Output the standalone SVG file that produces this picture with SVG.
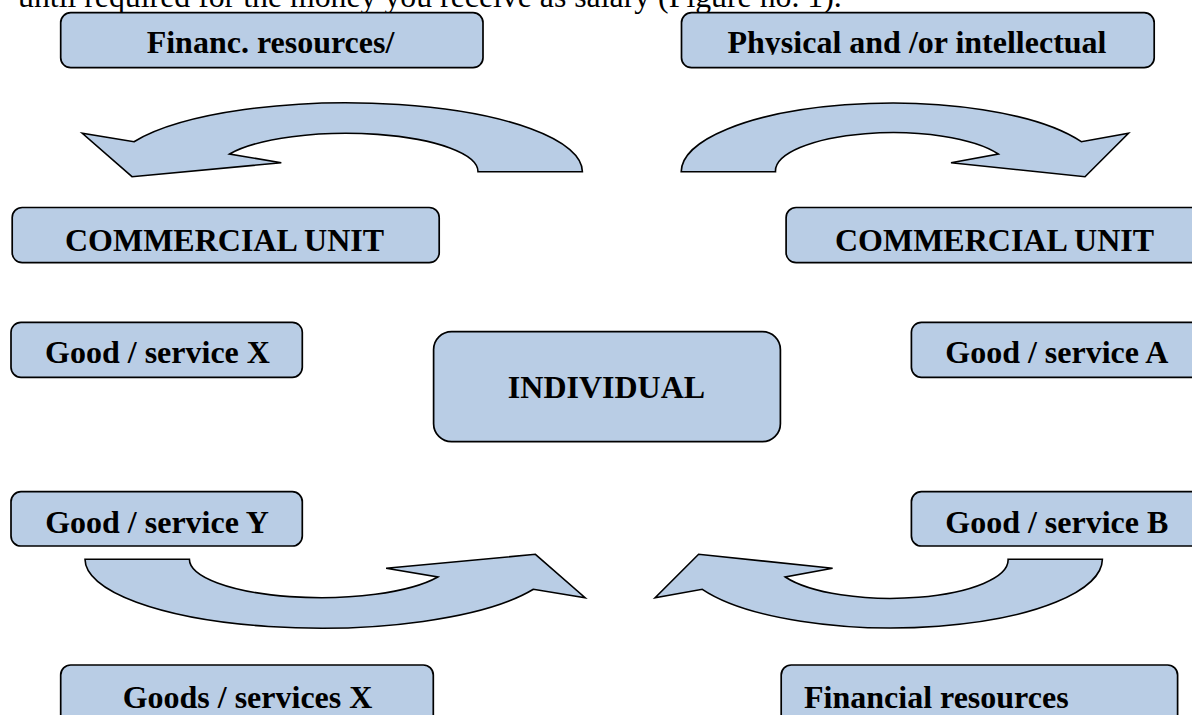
<svg xmlns="http://www.w3.org/2000/svg" xmlns:xlink="http://www.w3.org/1999/xlink" width="1192" height="715" viewBox="0 0 1192 715">
  <style>
    .box { fill: #B9CDE5; stroke: #000; stroke-width: 1.7; }
    .flow { fill: #B9CDE5; stroke: #000; stroke-width: 1.6; stroke-linejoin: miter; }
    .lbl { font-family: "Liberation Serif", "Times New Roman", serif; font-weight: bold; font-size: 32px; fill: #000; }
    .body { font-family: "Liberation Serif", "Times New Roman", serif; font-size: 31.8px; fill: #000; }
  </style>
  <defs>
    <!-- curved block arrow, head on the left; drawn around the centre of its arc -->
    <path id="curveLeft" d="M236,0 A236,69 0 0 0 -212.4,-30 L-264.1,-38.4 L-214.4,5 L-65.1,-9 L-116.8,-17.7 A131.6,38.4 0 0 1 131.6,0 Z"/>
    <!-- curved block arrow, head on the right -->
    <path id="curveRight" d="M-210.8,0 A210.8,69 0 0 1 189.3,-30 L236.5,-38.4 L193,5 L59,-9 L106.3,-17.7 A117.5,38.4 0 0 0 -116.5,0 Z"/>
    <clipPath id="cutDesc">
      <rect x="681" y="12" width="474" height="42.8"/>
    </clipPath>
  </defs>

  <rect width="1192" height="715" fill="#fff"/>

  <!-- running paragraph line above the figure -->
  <text class="body" x="18" y="6.5">until required for the money you receive as salary (Figure no. 1).</text>

  <g id="connectors">
    <use xlink:href="#curveLeft" class="flow" transform="translate(346.4,171.7)"/>
    <use xlink:href="#curveRight" class="flow" transform="translate(892,171.7)"/>
    <use xlink:href="#curveLeft" class="flow" transform="translate(321,559.3) rotate(180)"/>
    <use xlink:href="#curveRight" class="flow" transform="translate(891.6,559.3) rotate(180)"/>
  </g>

  <g id="financ-resources">
    <rect class="box" x="60.7" y="12.7" width="422.3" height="55" rx="10"/>
    <text class="lbl" x="270.5" y="53.3" text-anchor="middle">Financ. resources/</text>
  </g>

  <g id="physical-intellectual">
    <rect class="box" x="681.5" y="12.7" width="472.7" height="55" rx="10"/>
    <text class="lbl" x="917" y="53.3" text-anchor="middle" clip-path="url(#cutDesc)">Physical and /or intellectual</text>
  </g>

  <g id="commercial-unit-left">
    <rect class="box" x="12.2" y="207.5" width="427" height="55.2" rx="10"/>
    <text class="lbl" x="224.5" y="250.5" text-anchor="middle">COMMERCIAL UNIT</text>
  </g>

  <g id="commercial-unit-right">
    <rect class="box" x="786.1" y="207.5" width="418" height="55.2" rx="10"/>
    <text class="lbl" x="994.5" y="250.5" text-anchor="middle">COMMERCIAL UNIT</text>
  </g>

  <g id="good-service-x">
    <rect class="box" x="11" y="322.3" width="291.3" height="55" rx="10"/>
    <text class="lbl" x="157.5" y="363.3" text-anchor="middle">Good / service X</text>
  </g>

  <g id="individual">
    <rect class="box" x="433.6" y="331.7" width="346.8" height="110" rx="18"/>
    <text class="lbl" x="606.5" y="398.3" text-anchor="middle">INDIVIDUAL</text>
  </g>

  <g id="good-service-a">
    <rect class="box" x="911.4" y="322.3" width="292" height="55" rx="10"/>
    <text class="lbl" x="1056.8" y="363.3" text-anchor="middle">Good / service A</text>
  </g>

  <g id="good-service-y">
    <rect class="box" x="11" y="491.7" width="291.3" height="54.3" rx="10"/>
    <text class="lbl" x="157" y="533.3" text-anchor="middle">Good / service Y</text>
  </g>

  <g id="good-service-b">
    <rect class="box" x="911.4" y="491.7" width="292" height="54.3" rx="10"/>
    <text class="lbl" x="1056.8" y="533.3" text-anchor="middle">Good / service B</text>
  </g>

  <g id="goods-services-x">
    <rect class="box" x="60.7" y="665" width="372.6" height="70" rx="10"/>
    <text class="lbl" x="247.5" y="708.3" text-anchor="middle">Goods / services X</text>
  </g>

  <g id="financial-resources">
    <rect class="box" x="781.2" y="665" width="396.4" height="70" rx="10"/>
    <text class="lbl" x="804" y="708.3">Financial resources</text>
  </g>
</svg>
